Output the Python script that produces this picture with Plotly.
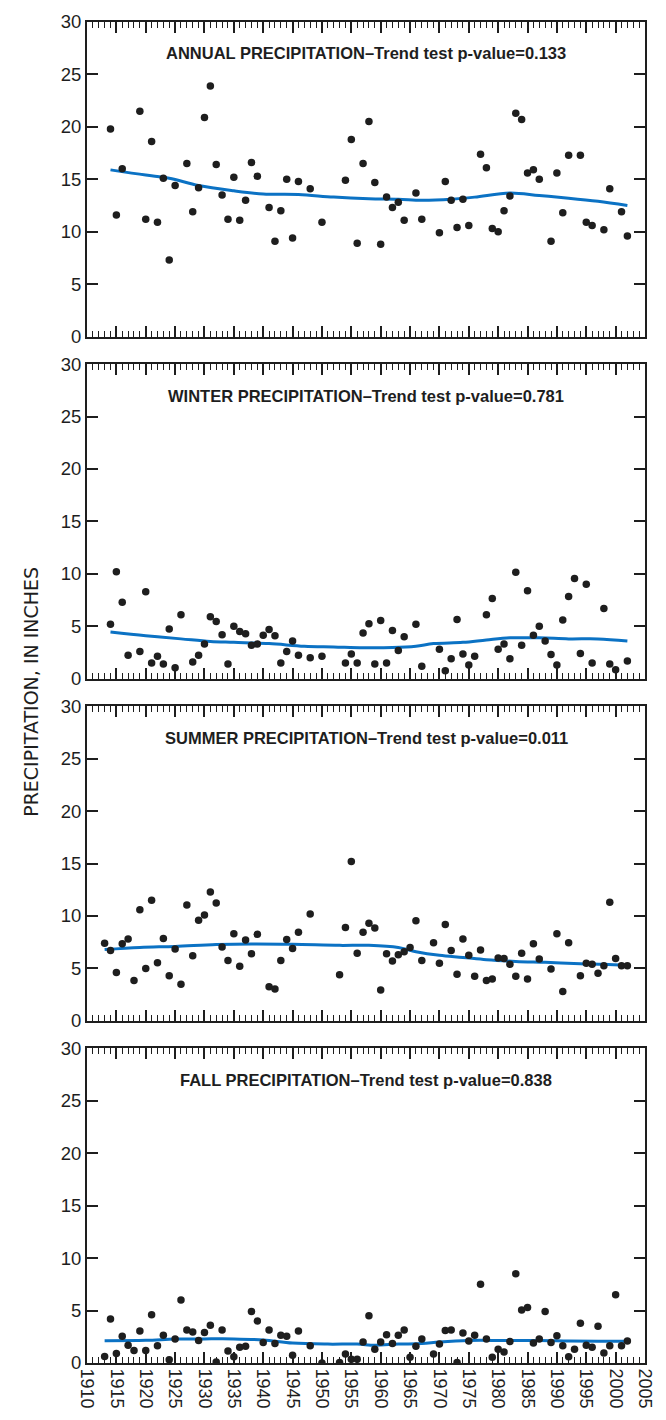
import plotly.graph_objects as go

# ---- observed seasonal and annual precipitation totals (inches) ----
annual_years = [1914, 1915, 1916, 1919, 1920, 1921, 1922, 1923, 1924, 1925,
                1927, 1928, 1929, 1930, 1931, 1932, 1933, 1934, 1935, 1936,
                1937, 1938, 1939, 1941, 1942, 1943, 1944, 1945, 1946, 1948,
                1950, 1954, 1955, 1956, 1957, 1958, 1959, 1960, 1961, 1962,
                1963, 1964, 1966, 1967, 1970, 1971, 1972, 1973, 1974, 1975,
                1977, 1978, 1979, 1980, 1981, 1982, 1983, 1984, 1985, 1986,
                1987, 1989, 1990, 1991, 1992, 1994, 1995, 1996, 1998, 1999,
                2001, 2002]
annual_vals = [19.8, 11.6, 16.0, 21.5, 11.2, 18.6, 10.9, 15.1, 7.3, 14.4,
               16.5, 11.9, 14.2, 20.9, 23.9, 16.4, 13.5, 11.2, 15.2, 11.1,
               13.0, 16.6, 15.3, 12.3, 9.1, 12.0, 15.0, 9.4, 14.8, 14.1,
               10.9, 14.9, 18.8, 8.9, 16.5, 20.5, 14.7, 8.8, 13.3, 12.3,
               12.8, 11.1, 13.7, 11.2, 9.9, 14.8, 13.0, 10.4, 13.1, 10.6,
               17.4, 16.1, 10.3, 10.0, 12.0, 13.4, 21.3, 20.7, 15.6, 15.9,
               15.0, 9.1, 15.6, 11.8, 17.3, 17.3, 10.9, 10.6, 10.2, 14.1,
               11.9, 9.6]

winter_years = [1914, 1915, 1916, 1917, 1919, 1920, 1921, 1922, 1923, 1924,
                1925, 1926, 1928, 1929, 1930, 1931, 1932, 1933, 1934, 1935,
                1936, 1937, 1938, 1939, 1940, 1941, 1942, 1943, 1944, 1945,
                1946, 1948, 1950, 1954, 1955, 1956, 1957, 1958, 1959, 1960,
                1961, 1962, 1963, 1964, 1966, 1967, 1970, 1971, 1972, 1973,
                1974, 1975, 1976, 1978, 1979, 1980, 1981, 1982, 1983, 1984,
                1985, 1986, 1987, 1988, 1989, 1990, 1991, 1992, 1993, 1994,
                1995, 1996, 1998, 1999, 2000, 2002]
winter_vals = [5.2, 10.2, 7.3, 2.25, 2.6, 8.3, 1.5, 2.15, 1.4, 4.75,
               1.05, 6.1, 1.6, 2.25, 3.3, 5.9, 5.45, 4.2, 1.4, 5.0,
               4.5, 4.3, 3.2, 3.3, 4.15, 4.7, 4.1, 1.5, 2.6, 3.6,
               2.25, 2.0, 2.15, 1.5, 2.35, 1.5, 4.35, 5.25, 1.4, 5.55,
               1.5, 4.6, 2.7, 4.0, 5.2, 1.2, 2.8, 0.75, 1.9, 5.65,
               2.35, 1.3, 2.15, 6.1, 7.65, 2.8, 3.3, 1.9, 10.15, 3.2,
               8.4, 4.15, 5.0, 3.6, 2.3, 1.3, 5.6, 7.85, 9.55, 2.4,
               9.0, 1.5, 6.7, 1.4, 0.85, 1.7]

summer_years = [1913, 1914, 1915, 1916, 1917, 1918, 1919, 1920, 1921, 1922,
                1923, 1924, 1925, 1926, 1927, 1928, 1929, 1930, 1931, 1932,
                1933, 1934, 1935, 1936, 1937, 1938, 1939, 1941, 1942, 1943,
                1944, 1945, 1946, 1948, 1953, 1954, 1955, 1956, 1957, 1958,
                1959, 1960, 1961, 1962, 1963, 1964, 1965, 1966, 1967, 1969,
                1970, 1971, 1972, 1973, 1974, 1975, 1976, 1977, 1978, 1979,
                1980, 1981, 1982, 1983, 1984, 1985, 1986, 1987, 1989, 1990,
                1991, 1992, 1994, 1995, 1996, 1997, 1998, 1999, 2000, 2001,
                2002]
summer_vals = [7.4, 6.7, 4.6, 7.35, 7.8, 3.85, 10.6, 5.0, 11.5, 5.55,
               7.85, 4.3, 6.85, 3.5, 11.05, 6.2, 9.6, 10.1, 12.3, 11.25,
               7.05, 5.75, 8.3, 5.2, 7.7, 6.4, 8.25, 3.25, 3.05, 5.75,
               7.75, 6.9, 8.45, 10.2, 4.4, 8.9, 15.2, 6.45, 8.45, 9.3,
               8.85, 2.95, 6.4, 5.7, 6.3, 6.6, 7.0, 9.55, 5.75, 7.45,
               5.5, 9.2, 6.7, 4.45, 7.8, 6.25, 4.25, 6.75, 3.85, 4.0,
               6.0, 5.95, 5.4, 4.25, 6.45, 4.0, 7.35, 5.9, 4.95, 8.3,
               2.8, 7.45, 4.3, 5.5, 5.4, 4.55, 5.25, 11.3, 5.95, 5.25,
               5.25]

fall_years = [1913, 1914, 1915, 1916, 1917, 1918, 1919, 1920, 1921, 1922,
              1923, 1924, 1925, 1926, 1927, 1928, 1929, 1930, 1931, 1932,
              1933, 1934, 1935, 1936, 1937, 1938, 1939, 1940, 1941, 1942,
              1943, 1944, 1945, 1946, 1948, 1950, 1953, 1954, 1955, 1956,
              1957, 1958, 1959, 1960, 1961, 1962, 1963, 1964, 1965, 1966,
              1967, 1969, 1970, 1971, 1972, 1973, 1974, 1975, 1976, 1977,
              1978, 1979, 1980, 1981, 1982, 1983, 1984, 1985, 1986, 1987,
              1988, 1989, 1990, 1991, 1992, 1993, 1994, 1995, 1996, 1997,
              1998, 1999, 2000, 2001, 2002]
fall_vals = [0.63, 4.2, 0.9, 2.55, 1.7, 1.2, 3.05, 1.2, 4.6, 1.65,
             2.65, 0.3, 2.3, 6.0, 3.15, 2.95, 2.15, 2.9, 3.6, 0.1,
             3.15, 1.15, 0.6, 1.5, 1.6, 4.9, 4.0, 1.95, 3.15, 1.85,
             2.65, 2.55, 0.75, 3.05, 1.65, 0.0, 0.05, 0.85, 0.35, 0.35,
             2.0, 4.5, 1.3, 2.0, 2.7, 1.85, 2.65, 3.15, 0.55, 1.6,
             2.3, 0.85, 1.8, 3.1, 3.15, 0.05, 2.85, 2.1, 2.65, 7.5,
             2.3, 0.55, 1.3, 1.05, 2.05, 8.5, 5.05, 5.3, 1.9, 2.3,
             4.9, 1.95, 2.6, 1.65, 0.6, 1.3, 3.8, 1.7, 1.5, 3.5,
             0.95, 1.65, 6.5, 1.65, 2.1]

# ---- smoothed (LOWESS) trend curves ----
annual_trend_years = [1914, 1920, 1924, 1929, 1935, 1940, 1946, 1952, 1958,
                      1963, 1967, 1972, 1976, 1982, 1987, 1992, 1997, 2002]
annual_trend_vals = [15.9, 15.4, 15.1, 14.4, 13.9, 13.6, 13.55, 13.3, 13.15,
                     13.1, 13.0, 13.1, 13.3, 13.7, 13.45, 13.2, 12.9, 12.5]

winter_trend_years = [1914, 1920, 1926, 1931, 1935, 1941, 1947, 1952, 1957,
                      1962, 1966, 1969, 1974, 1978, 1982, 1987, 1992, 1997, 2002]
winter_trend_vals = [4.45, 4.1, 3.8, 3.55, 3.47, 3.35, 3.1, 3.03, 2.95,
                     2.97, 3.1, 3.35, 3.47, 3.7, 3.9, 3.9, 3.8, 3.8, 3.6]

summer_trend_years = [1913, 1919, 1925, 1932, 1938, 1945, 1953, 1958, 1963,
                      1966, 1970, 1974, 1978, 1983, 1988, 1994, 1998, 2002]
summer_trend_vals = [6.8, 7.0, 7.1, 7.27, 7.33, 7.3, 7.2, 7.2, 7.0,
                     6.6, 6.25, 6.05, 5.83, 5.67, 5.58, 5.45, 5.4, 5.3]

fall_trend_years = [1913, 1920, 1925, 1930, 1935, 1940, 1945, 1951, 1956,
                    1959, 1963, 1967, 1970, 1975, 1981, 1987, 1992, 1997, 2002]
fall_trend_vals = [2.13, 2.16, 2.28, 2.3, 2.3, 2.2, 1.9, 1.8, 1.8,
                   1.7, 1.8, 1.85, 2.0, 2.15, 2.15, 2.15, 2.1, 2.07, 2.07]

panel_titles = [
    "ANNUAL PRECIPITATION\u2013Trend test p-value=0.133",
    "WINTER PRECIPITATION\u2013Trend test p-value=0.781",
    "SUMMER PRECIPITATION\u2013Trend test p-value=0.011",
    "FALL PRECIPITATION\u2013Trend test p-value=0.838",
]

panels = [
    (annual_years, annual_vals, annual_trend_years, annual_trend_vals),
    (winter_years, winter_vals, winter_trend_years, winter_trend_vals),
    (summer_years, summer_vals, summer_trend_years, summer_trend_vals),
    (fall_years, fall_vals, fall_trend_years, fall_trend_vals),
]

# ---- page geometry ----
W, H = 666, 1420
M_TOP, M_BOT, M_LEFT, M_RIGHT = 11, 46, 87, 13
GAP = 28
plot_h = H - M_TOP - M_BOT
panel_h = (plot_h - 3 * GAP) / 4

TICK_FONT = "Liberation Sans, Arial, sans-serif"
INK = "#1e1e1e"
TREND = "#0b72c4"

fig = go.Figure()
layout = {}
annotations = []

for i, (yrs, vals, tyrs, tvals) in enumerate(panels):
    n = i + 1
    xname = "x" if n == 1 else f"x{n}"
    yname = "y" if n == 1 else f"y{n}"
    top_px = i * (panel_h + GAP)
    dom = [1 - (top_px + panel_h) / plot_h, 1 - top_px / plot_h]

    fig.add_trace(go.Scatter(
        x=tyrs, y=tvals, mode="lines", xaxis=xname, yaxis=yname,
        line=dict(color=TREND, width=3, shape="spline", smoothing=1.0),
        showlegend=False, hoverinfo="skip"))
    fig.add_trace(go.Scatter(
        x=yrs, y=vals, mode="markers", xaxis=xname, yaxis=yname,
        marker=dict(color=INK, size=7.5, line=dict(width=0)),
        showlegend=False))

    bottom_panel = (n == 4)
    layout["xaxis" if n == 1 else f"xaxis{n}"] = dict(
        domain=[0, 1], anchor=yname, range=[1910, 2005],
        tick0=1910, dtick=5, ticks="inside", ticklen=11, tickwidth=2,
        tickcolor=INK, showline=True, linewidth=2, linecolor=INK,
        mirror="ticks", showgrid=False, zeroline=False,
        minor=dict(dtick=1, ticks="inside", ticklen=6, tickwidth=1.3,
                   tickcolor=INK, showgrid=False),
        showticklabels=bottom_panel, tickangle=90,
        tickfont=dict(family=TICK_FONT, size=18, color=INK),
    )
    layout["yaxis" if n == 1 else f"yaxis{n}"] = dict(
        domain=dom, anchor=xname, range=[0, 30], tick0=0, dtick=5,
        ticks="inside", ticklen=11, tickwidth=2, tickcolor=INK,
        showline=True, linewidth=2, linecolor=INK, mirror="ticks",
        showgrid=False, zeroline=False,
        tickfont=dict(family=TICK_FONT, size=18.5, color=INK),
    )
    annotations.append(dict(
        text="<b>" + panel_titles[i] + "</b>", x=1957.5, y=27,
        xref=xname, yref=yname, showarrow=False,
        xanchor="center", yanchor="middle",
        font=dict(family=TICK_FONT, size=16.5, color=INK)))

annotations.append(dict(
    text="PRECIPITATION, IN INCHES", textangle=-90,
    x=(30 - M_LEFT) / (W - M_LEFT - M_RIGHT), y=(H - M_BOT - 692) / plot_h,
    xref="paper", yref="paper", showarrow=False,
    xanchor="center", yanchor="middle",
    font=dict(family="DejaVu Sans, sans-serif", size=19, color=INK)))

fig.update_layout(
    width=W, height=H, autosize=False,
    margin=dict(l=M_LEFT, r=M_RIGHT, t=M_TOP, b=M_BOT, pad=0),
    paper_bgcolor="white", plot_bgcolor="white",
    annotations=annotations, showlegend=False,
    **layout,
)

fig.write_html("out.html")
